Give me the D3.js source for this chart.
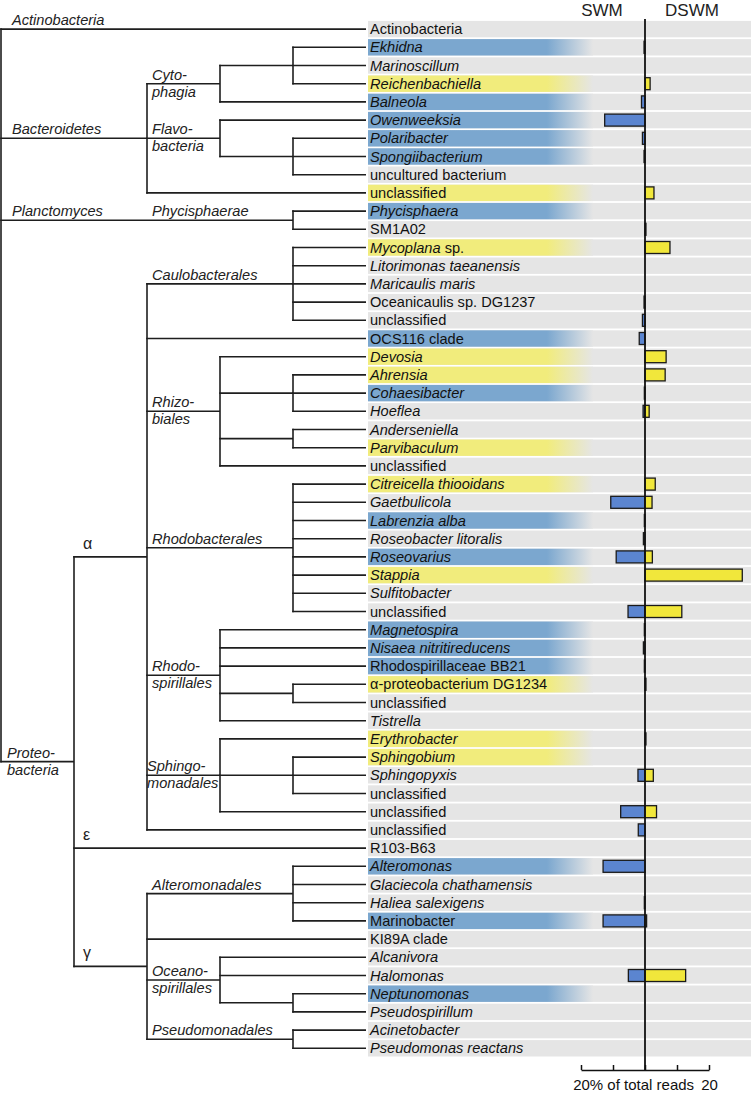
<!DOCTYPE html>
<html>
<head>
<meta charset="utf-8">
<script src="https://cdn.jsdelivr.net/npm/d3@7/dist/d3.min.js"></script>
<style>
  html, body { margin: 0; padding: 0; background: #fff; }
  svg { display: block; }
  text { font-family: "Liberation Sans", Arial, sans-serif; }
</style>
</head>
<body>
<svg id="chart" width="751" height="1093"></svg>
<script>
// ---------------- DATA ----------------
const taxa = [
  "Actinobacteria", "Ekhidna", "Marinoscillum", "Reichenbachiella", "Balneola",
  "Owenweeksia", "Polaribacter", "Spongiibacterium", "uncultured bacterium", "unclassified",
  "Phycisphaera", "SM1A02", "Mycoplana sp.", "Litorimonas taeanensis", "Maricaulis maris",
  "Oceanicaulis sp. DG1237", "unclassified", "OCS116 clade", "Devosia", "Ahrensia",
  "Cohaesibacter", "Hoeflea", "Anderseniella", "Parvibaculum", "unclassified",
  "Citreicella thiooidans", "Gaetbulicola", "Labrenzia alba", "Roseobacter litoralis", "Roseovarius",
  "Stappia", "Sulfitobacter", "unclassified", "Magnetospira", "Nisaea nitritireducens",
  "Rhodospirillaceae BB21", "α-proteobacterium DG1234", "unclassified", "Tistrella", "Erythrobacter",
  "Sphingobium", "Sphingopyxis", "unclassified", "unclassified", "unclassified",
  "R103-B63", "Alteromonas", "Glaciecola chathamensis", "Haliea salexigens", "Marinobacter",
  "KI89A clade", "Alcanivora", "Halomonas", "Neptunomonas", "Pseudospirillum",
  "Acinetobacter", "Pseudomonas reactans"
];
// i = italic, n = normal, m = first word italic
const labelStyle = [
  "n","i","i","i","i", "i","i","i","n","n",
  "i","n","m","i","i", "n","n","n","i","i",
  "i","i","i","i","n", "i","i","i","i","i",
  "i","i","n","i","i", "n","n","n","i","i",
  "i","i","n","n","n", "n","i","i","i","n",
  "n","i","i","i","i", "i","i"
];
// b = blue highlight, y = yellow highlight, "" = none
const highlight = [
  "","b","","y","b", "b","b","b","","y",
  "b","","y","","", "","","b","y","y",
  "b","","","y","", "y","","b","","b",
  "y","","","b","b", "b","y","","","y",
  "y","","","","", "","b","","","b",
  "","","","b","", "",""
];
// % of total reads
const swm = [
  0, 0.3, 0, 0, 1.1, 12.6, 0.8, 0.3, 0, 0,
  0, 0, 0, 0, 0, 0.3, 0.8, 1.8, 0, 0,
  0.2, 0.6, 0, 0, 0, 0, 10.7, 0.2, 0.5, 9.0,
  0, 0, 5.3, 0.2, 0.5, 0.2, 0, 0, 0, 0,
  0, 2.2, 0, 7.6, 2.1, 0, 13.1, 0, 0.2, 13.1,
  0, 0, 5.2, 0, 0, 0, 0
];
const dswm = [
  0, 0, 0, 1.6, 0, 0, 0, 0, 0, 2.8,
  0, 0.3, 7.8, 0, 0, 0, 0, 0, 6.6, 6.3,
  0, 1.3, 0, 0, 0, 3.2, 2.2, 0, 0, 2.3,
  30.4, 0, 11.5, 0, 0, 0, 0.3, 0, 0, 0.3,
  0, 2.6, 0, 3.6, 0, 0, 0, 0, 0, 0.5,
  0, 0, 12.7, 0, 0, 0, 0
];
const seriesNames = ["SWM", "DSWM"];
const tickValues = [-20, -10, 0, 10, 20];
const tickLabels = ["20", "", "", "", "20"];
const axisTitle = "% of total reads";

// Tree: internal nodes {col, labels, children}, leaves {leaf: index}
const L = i => ({ leaf: i });
const range = (a, b) => d3.range(a, b + 1).map(L);
const treeData = { col: 0, children: [
  { leaf: 0, labels: [{ t: ["Actinobacteria"], c: 0 }] },
  { col: 2, labels: [{ t: ["Bacteroidetes"], c: 0 }], children: [
    { col: 3, labels: [{ t: ["Cyto-", "phagia"], c: 2 }], children: [
      { col: 4, children: range(1, 3) }, L(4) ] },
    { col: 3, labels: [{ t: ["Flavo-", "bacteria"], c: 2 }], children: [
      L(5), { col: 4, children: range(6, 8) } ] },
    L(9) ] },
  { col: 4, labels: [{ t: ["Planctomyces"], c: 0 }, { t: ["Phycisphaerae"], c: 2 }], children: range(10, 11) },
  { col: 1, labels: [{ t: ["Proteo-", "bacteria"], c: 0, dx: -5 }], children: [
    { col: 2, labels: [{ t: ["α"], c: 1, greek: true }], children: [
      { col: 4, labels: [{ t: ["Caulobacterales"], c: 2 }], children: range(12, 16) },
      L(17),
      { col: 3, labels: [{ t: ["Rhizo-", "biales"], c: 2 }], children: [
        L(18), { col: 4, children: range(19, 21) }, { col: 4, children: range(22, 23) }, L(24) ] },
      { col: 4, labels: [{ t: ["Rhodobacterales"], c: 2 }], children: range(25, 32) },
      { col: 3, labels: [{ t: ["Rhodo-", "spirillales"], c: 2 }], children: [
        L(33), L(34), L(35), { col: 4, children: range(36, 37) }, L(38) ] },
      { col: 3, labels: [{ t: ["Sphingo-", "monadales"], c: 2, dx: -5 }], children: [
        L(39), { col: 4, children: range(40, 42) }, L(43) ] },
      L(44) ] },
    { leaf: 45, labels: [{ t: ["ε"], c: 1, greek: true }] },
    { col: 2, labels: [{ t: ["γ"], c: 1, greek: true }], children: [
      { col: 4, labels: [{ t: ["Alteromonadales"], c: 2 }], children: range(46, 49) },
      L(50),
      { col: 3, labels: [{ t: ["Oceano-", "spirillales"], c: 2 }], children: [
        L(51), L(52), { col: 4, children: range(53, 54) } ] },
      { col: 4, labels: [{ t: ["Pseudomonadales"], c: 2 }], children: range(55, 56) } ] }
  ] }
] };

// ---------------- LAYOUT ----------------
const svg = d3.select("#chart");
const FONT = "\"Liberation Sans\", Arial, sans-serif";
const fs = 14.6;

const y = d3.scaleBand().domain(d3.range(taxa.length)).range([20, 20 + 18.2 * taxa.length]).padding(0);
const yc = i => y(i) + y.bandwidth() / 2;
const colX = d3.scaleLinear().domain([0, 5]).range([1, 366]);
const x = d3.scaleLinear().domain([-20, 20]).range([581, 709]);

const bandX0 = 368, bandX1 = 751, fadeStart = 547, fadeEnd = 593;
const colors = { b: "#7ba7cf", y: "#f1ec7c", gray: "#e5e5e5" };

// gradients
const defs = svg.append("defs");
["b", "y"].forEach(k => {
  const g = defs.append("linearGradient").attr("id", "grad-" + k)
    .attr("gradientUnits", "userSpaceOnUse")
    .attr("x1", bandX0).attr("x2", fadeEnd).attr("y1", 0).attr("y2", 0);
  g.append("stop").attr("offset", 0).attr("stop-color", colors[k]);
  g.append("stop").attr("offset", (fadeStart - bandX0) / (fadeEnd - bandX0)).attr("stop-color", colors[k]);
  g.append("stop").attr("offset", 1).attr("stop-color", colors.gray);
});

// bands
const idx = d3.range(taxa.length);
const bandG = svg.append("g");
bandG.selectAll("rect.band").data(idx).join("rect").attr("class", "band")
  .attr("x", bandX0).attr("width", bandX1 - bandX0)
  .attr("y", i => y(i) + 0.9).attr("height", y.bandwidth() - 1.8)
  .attr("fill", colors.gray);
bandG.selectAll("rect.hl").data(idx.filter(i => highlight[i])).join("rect").attr("class", "hl")
  .attr("x", bandX0).attr("width", fadeEnd - bandX0)
  .attr("y", i => y(i) + 0.9).attr("height", y.bandwidth() - 1.8)
  .attr("fill", i => "url(#grad-" + highlight[i] + ")");

// leaf labels
const lab = svg.append("g").attr("font-family", FONT).attr("font-size", fs).attr("fill", "#111");
taxa.forEach((t, i) => {
  const tx = lab.append("text").attr("x", 370).attr("y", yc(i) + 5);
  const s = labelStyle[i];
  if (s === "i") tx.attr("font-style", "italic").text(t);
  else if (s === "n") tx.text(t);
  else {
    const sp = t.indexOf(" ");
    tx.append("tspan").attr("font-style", "italic").text(t.slice(0, sp));
    tx.append("tspan").text(t.slice(sp));
  }
});

// tree
const root = d3.hierarchy(treeData);
root.eachAfter(n => {
  if (n.data.leaf !== undefined) { n.yy = yc(n.data.leaf); n.xx = colX(5); }
  else {
    n.yy = (n.children[0].yy + n.children[n.children.length - 1].yy) / 2;
    n.xx = colX(n.data.col);
  }
});
const tg = svg.append("g").attr("stroke", "#1e1e1e").attr("stroke-width", 1.6).attr("fill", "none");
root.each(n => {
  if (n.parent) {
    tg.append("line").attr("x1", n.parent.xx - 0.8).attr("x2", n.xx)
      .attr("y1", n.yy).attr("y2", n.yy);
  }
  if (n.children) {
    tg.append("line").attr("x1", n.xx).attr("x2", n.xx)
      .attr("y1", n.children[0].yy - 0.8).attr("y2", n.children[n.children.length - 1].yy + 0.8);
  }
});
// clade labels
const cg = svg.append("g").attr("font-family", FONT).attr("font-size", fs).attr("fill", "#222");
root.each(n => {
  (n.data.labels || []).forEach(lb => {
    const lx = colX(lb.c) + (lb.c === 0 ? 11 : lb.greek ? 9 : 5) + (lb.dx || 0);
    if (lb.greek) {
      cg.append("text").attr("x", lx).attr("y", n.yy - 8).attr("font-size", 16).text(lb.t[0]);
    } else if (lb.t.length === 1) {
      cg.append("text").attr("x", lx).attr("y", n.yy - 4).attr("font-style", "italic").text(lb.t[0]);
    } else {
      cg.append("text").attr("x", lx).attr("y", n.yy - 4).attr("font-style", "italic").text(lb.t[0]);
      cg.append("text").attr("x", lx).attr("y", n.yy + 13).attr("font-style", "italic").text(lb.t[1]);
    }
  });
});

// bars
const bh = 12;
const bg = svg.append("g").attr("stroke", "#1a1a1a").attr("stroke-width", 1.3);
bg.selectAll("rect.swm").data(idx.filter(i => swm[i])).join("rect").attr("class", "swm")
  .attr("x", i => x(-swm[i])).attr("width", i => x(0) - x(-swm[i]))
  .attr("y", i => yc(i) - bh / 2).attr("height", bh).attr("fill", "#5b85d0");
bg.selectAll("rect.dswm").data(idx.filter(i => dswm[i])).join("rect").attr("class", "dswm")
  .attr("x", x(0)).attr("width", i => x(dswm[i]) - x(0))
  .attr("y", i => yc(i) - bh / 2).attr("height", bh).attr("fill", "#f1e73b");

// axis
const axisY = 1070;
const ax = svg.append("g").attr("transform", `translate(0,${axisY})`)
  .call(d3.axisBottom(x).tickValues(tickValues).tickSizeInner(-5).tickSizeOuter(0)
    .tickPadding(9).tickFormat((d, i) => tickLabels[i]));
ax.selectAll("path,line").attr("stroke", "#111").attr("stroke-width", 1.5);
ax.selectAll("text").attr("font-family", FONT).attr("font-size", 15).attr("fill", "#111");
const firstLabel = ax.selectAll(".tick text").nodes()[0];
const halfW = firstLabel.getComputedTextLength() / 2;
svg.append("text").attr("x", x(-20) + halfW + 0.5).attr("y", axisY + 9)
  .attr("dy", "0.71em").attr("font-family", FONT).attr("font-size", 15).attr("fill", "#111")
  .text(axisTitle);

// zero line
svg.append("line").attr("x1", x(0)).attr("x2", x(0)).attr("y1", 19).attr("y2", axisY)
  .attr("stroke", "#111").attr("stroke-width", 1.8);

// headers
svg.append("g").attr("font-family", FONT).attr("font-size", 17).attr("fill", "#222")
  .selectAll("text").data(seriesNames).join("text")
  .attr("x", (d, i) => i === 0 ? 602 : 692).attr("y", 16).attr("text-anchor", "middle").text(d => d);
</script>
</body>
</html>
